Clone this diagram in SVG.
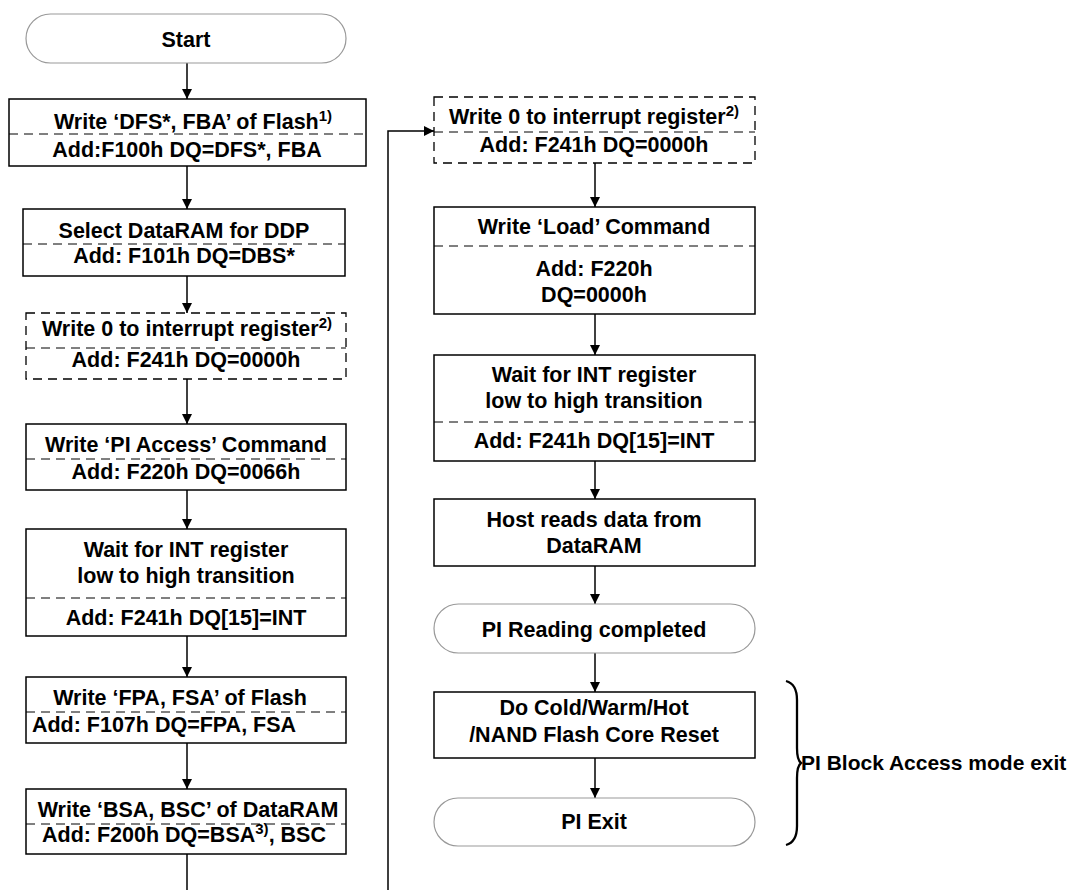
<svg xmlns="http://www.w3.org/2000/svg" width="1077" height="890" viewBox="0 0 1077 890">
<defs>
<marker id="ah" viewBox="0 0 10 10" refX="10" refY="5" markerWidth="10" markerHeight="10" markerUnits="userSpaceOnUse" orient="auto">
<path d="M0,0 L10,5 L0,10 Z" fill="#000"/>
</marker>
<style>
.box{fill:#fff;stroke:#000;stroke-width:1.5}
.dbox{fill:#fff;stroke:#000;stroke-width:1.3;stroke-dasharray:9 6}
.pill{fill:#fff;stroke:#999;stroke-width:1.2}
.div{stroke:#000;stroke-width:1;stroke-dasharray:9 6;fill:none}
.t{font-family:"Liberation Sans",Arial,Helvetica,sans-serif;font-weight:bold;font-size:21.5px;fill:#000;text-anchor:middle}
.sup{font-size:15px}
.c{stroke:#000;stroke-width:1.5;fill:none}
</style>
</defs>
<rect width="1077" height="890" fill="#fff"/>

<g id="connectors">
<line class="c" x1="187" y1="63" x2="187" y2="99" marker-end="url(#ah)"/>
<line class="c" x1="187" y1="166" x2="187" y2="209" marker-end="url(#ah)"/>
<line class="c" x1="187" y1="276" x2="187" y2="313" marker-end="url(#ah)"/>
<line class="c" x1="187" y1="379" x2="187" y2="424" marker-end="url(#ah)"/>
<line class="c" x1="187" y1="490" x2="187" y2="529" marker-end="url(#ah)"/>
<line class="c" x1="187" y1="636" x2="187" y2="677" marker-end="url(#ah)"/>
<line class="c" x1="187" y1="743" x2="187" y2="789" marker-end="url(#ah)"/>
<line class="c" x1="187" y1="854" x2="187" y2="890"/>
<polyline class="c" points="388,890 388,131 434,131" marker-end="url(#ah)"/>
<line class="c" x1="595" y1="163" x2="595" y2="207" marker-end="url(#ah)"/>
<line class="c" x1="595" y1="314" x2="595" y2="355" marker-end="url(#ah)"/>
<line class="c" x1="595" y1="461" x2="595" y2="499" marker-end="url(#ah)"/>
<line class="c" x1="595" y1="566" x2="595" y2="604" marker-end="url(#ah)"/>
<line class="c" x1="595" y1="653" x2="595" y2="692" marker-end="url(#ah)"/>
<line class="c" x1="595" y1="758" x2="595" y2="798" marker-end="url(#ah)"/>
</g>

<g id="start">
<rect class="pill" x="26" y="14" width="320" height="49" rx="24.5"/>
<text class="t" x="186" y="47">Start</text>
</g>

<g id="write-dfs">
<rect class="box" x="9" y="99" width="357" height="67"/>
<line class="div" x1="9" y1="134" x2="366" y2="134"/>
<text class="t" x="193" y="129">Write ‘DFS*, FBA’ of Flash<tspan class="sup" dy="-8">1)</tspan></text>
<text class="t" x="187" y="157">Add:F100h DQ=DFS*, FBA</text>
</g>

<g id="select-dataram">
<rect class="box" x="23" y="209" width="322" height="67"/>
<line class="div" x1="23" y1="244" x2="345" y2="244"/>
<text class="t" x="184" y="238">Select DataRAM for DDP</text>
<text class="t" x="184" y="263">Add: F101h DQ=DBS*</text>
</g>

<g id="write-int-1">
<rect class="dbox" x="26" y="313" width="320" height="66"/>
<line class="div" x1="26" y1="348" x2="346" y2="348"/>
<text class="t" x="187" y="336">Write 0 to interrupt register<tspan class="sup" dy="-8">2)</tspan></text>
<text class="t" x="186" y="367">Add: F241h DQ=0000h</text>
</g>

<g id="pi-access">
<rect class="box" x="26" y="424" width="320" height="66"/>
<line class="div" x1="26" y1="459" x2="346" y2="459"/>
<text class="t" x="186" y="452">Write ‘PI Access’ Command</text>
<text class="t" x="186" y="479">Add: F220h DQ=0066h</text>
</g>

<g id="wait-int-1">
<rect class="box" x="26" y="529" width="320" height="107"/>
<line class="div" x1="26" y1="598" x2="346" y2="598"/>
<text class="t" x="186" y="557">Wait for INT register</text>
<text class="t" x="186" y="583">low to high transition</text>
<text class="t" x="186" y="625">Add: F241h DQ[15]=INT</text>
</g>

<g id="write-fpa">
<rect class="box" x="26" y="677" width="320" height="66"/>
<line class="div" x1="26" y1="712" x2="346" y2="712"/>
<text class="t" x="180" y="705">Write ‘FPA, FSA’ of Flash</text>
<text class="t" x="164" y="732">Add: F107h DQ=FPA, FSA</text>
</g>

<g id="write-bsa">
<rect class="box" x="26" y="789" width="320" height="65"/>
<line class="div" x1="26" y1="824" x2="346" y2="824"/>
<text class="t" x="188" y="817">Write ‘BSA, BSC’ of DataRAM</text>
<text class="t" x="184" y="842">Add: F200h DQ=BSA<tspan class="sup" dy="-8">3)</tspan><tspan dy="8">, BSC</tspan></text>
</g>

<g id="write-int-2">
<rect class="dbox" x="434" y="97" width="321" height="66"/>
<line class="div" x1="434" y1="132" x2="755" y2="132"/>
<text class="t" x="594" y="124">Write 0 to interrupt register<tspan class="sup" dy="-8">2)</tspan></text>
<text class="t" x="594" y="152">Add: F241h DQ=0000h</text>
</g>

<g id="load-cmd">
<rect class="box" x="434" y="207" width="321" height="107"/>
<line class="div" x1="434" y1="246" x2="755" y2="246"/>
<text class="t" x="594" y="234">Write ‘Load’ Command</text>
<text class="t" x="594" y="276">Add: F220h</text>
<text class="t" x="594" y="302">DQ=0000h</text>
</g>

<g id="wait-int-2">
<rect class="box" x="434" y="355" width="321" height="106"/>
<line class="div" x1="434" y1="422" x2="755" y2="422"/>
<text class="t" x="594" y="382">Wait for INT register</text>
<text class="t" x="594" y="408">low to high transition</text>
<text class="t" x="594" y="448">Add: F241h DQ[15]=INT</text>
</g>

<g id="host-reads">
<rect class="box" x="434" y="499" width="321" height="67"/>
<text class="t" x="594" y="527">Host reads data from</text>
<text class="t" x="594" y="553">DataRAM</text>
</g>

<g id="pi-reading-completed">
<rect class="pill" x="434" y="604" width="321" height="49" rx="24.5"/>
<text class="t" x="594" y="637">PI Reading completed</text>
</g>

<g id="core-reset">
<rect class="box" x="434" y="692" width="321" height="66"/>
<text class="t" x="594" y="715">Do Cold/Warm/Hot</text>
<text class="t" x="594" y="742">/NAND Flash Core Reset</text>
</g>

<g id="pi-exit">
<rect class="pill" x="434" y="798" width="321" height="48" rx="24"/>
<text class="t" x="594" y="829">PI Exit</text>
</g>

<g id="exit-brace">
<path d="M786,681 Q797,684 797,700 L797,748 Q797,760 801,763 Q797,766 797,778 L797,826 Q797,842 786,845" fill="none" stroke="#000" stroke-width="2.3"/>
<text class="t" x="801" y="770" style="text-anchor:start;font-size:21px">PI Block Access mode exit</text>
</g>
</svg>
